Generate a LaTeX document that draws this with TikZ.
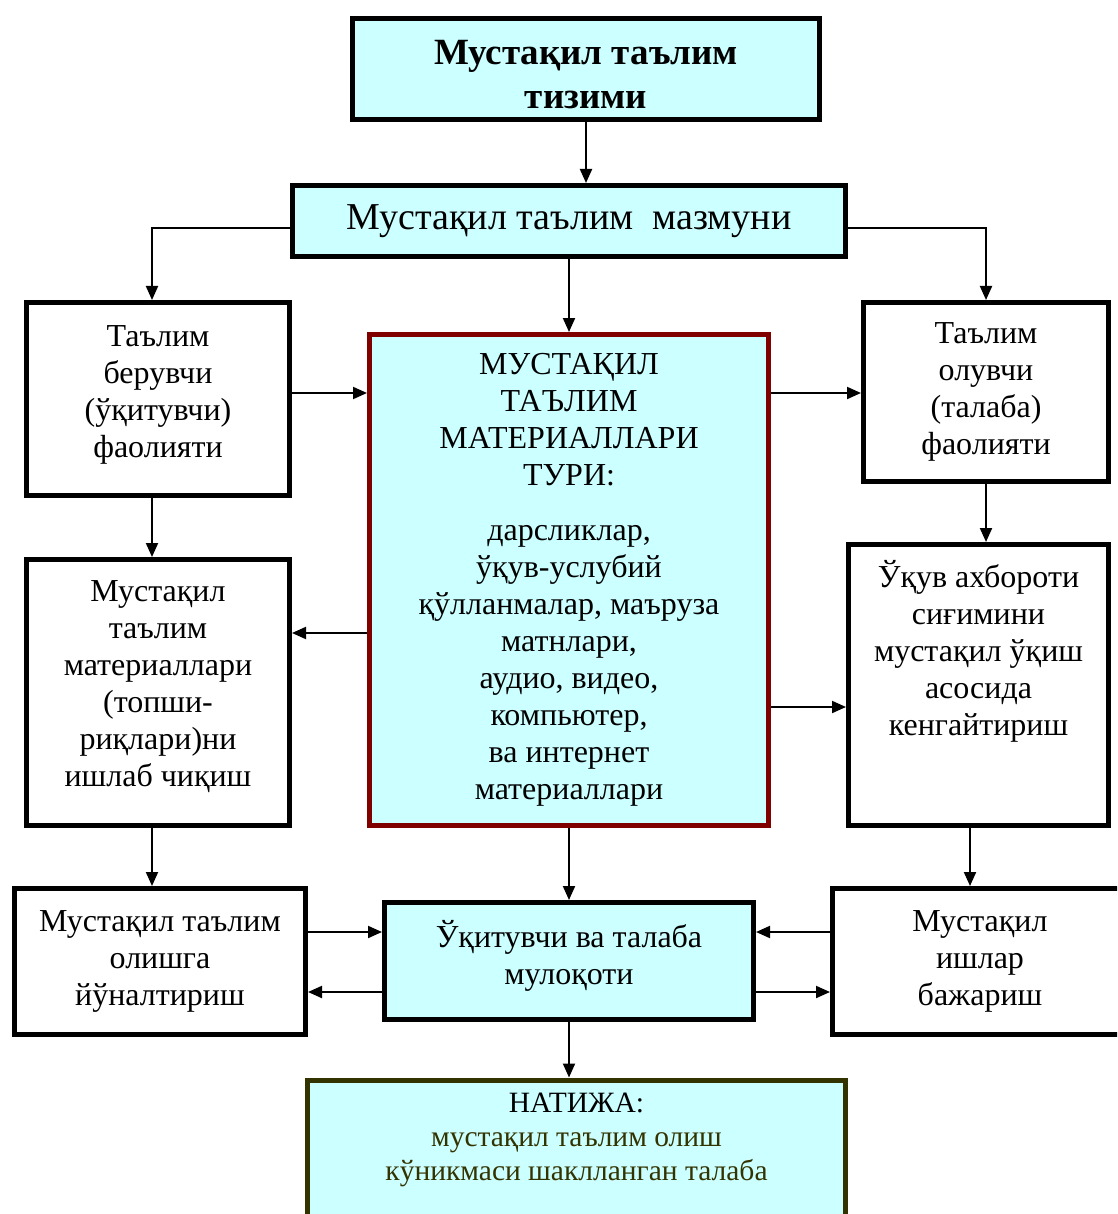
\documentclass[tikz,border=0pt]{standalone}
\usepackage{fontspec}
\setmainfont{Liberation Serif}
\usetikzlibrary{arrows.meta}
\definecolor{boxcyan}{HTML}{CCFFFF}
\definecolor{framered}{HTML}{800000}
\definecolor{frameolive}{HTML}{333300}
\begin{document}
\begin{tikzpicture}[x=1pt,y=-1pt,
  box/.style={draw=black,line width=5pt,fill=white,inner sep=0pt,align=center,
    font=\fontsize{32}{37}\selectfont},
  cyanbox/.style={box,fill=boxcyan},
  link/.style={line width=2pt,-{Triangle[length=14pt,width=12pt]}}]
\clip (0,0) rectangle (1117,1214);
\fill[white] (0,0) rectangle (1117,1214);
\node[cyanbox,minimum width=467pt,minimum height=101pt,font=\fontsize{37}{44}\selectfont\bfseries] (top) at (586,69) {\mbox{}\\[-8pt]Мустақил таълим\\тизими};
\node[cyanbox,minimum width=553pt,minimum height=71pt,font=\fontsize{38}{40}\selectfont] (maz) at (569,221) {Мустақил таълим\ \ мазмуни};
\node[box,minimum width=263pt,minimum height=193pt] (teach) at (158,399) {Таълим\\берувчи\\(ўқитувчи)\\фаолияти\\[-23pt]\mbox{}};
\node[cyanbox,draw=framered,minimum width=399pt,minimum height=491pt] (types) at (569,580) {МУСТАҚИЛ\\ТАЪЛИМ\\МАТЕРИАЛЛАРИ\\ТУРИ:\\[18pt]дарсликлар,\\ўқув-услубий\\қўлланмалар, маъруза\\матнлари,\\аудио, видео,\\компьютер,\\ва интернет\\материаллари};
\node[box,minimum width=245pt,minimum height=179pt] (learn) at (986,392) {Таълим\\олувчи\\(талаба)\\фаолияти};
\node[box,minimum width=263pt,minimum height=266pt] (tasks) at (158,692.5) {Мустақил\\таълим\\материаллари\\(топши-\\риқлари)ни\\ишлаб чиқиш\\[-20pt]\mbox{}};
\node[box,minimum width=260pt,minimum height=281pt] (widen) at (978.5,685) {Ўқув ахбороти\\сиғимини\\мустақил ўқиш\\асосида\\кенгайтириш\\[38pt]\mbox{}};
\node[box,minimum width=291pt,minimum height=146pt] (guide) at (160,961.5) {Мустақил таълим\\олишга\\йўналтириш};
\node[cyanbox,minimum width=369pt,minimum height=117pt] (talk) at (569,961) {Ўқитувчи ва талаба\\мулоқоти\\[-19pt]\mbox{}};
\node[box,minimum width=295pt,minimum height=146pt] (work) at (980,961.5) {Мустақил\\ишлар\\бажариш};
\node[cyanbox,draw=frameolive,minimum width=538pt,minimum height=148pt,font=\fontsize{29.5}{34}\selectfont] (result) at (576.5,1154) {НАТИЖА:\\\textcolor{frameolive}{мустақил таълим олиш}\\\textcolor{frameolive}{кўникмаси шаклланган талаба}\\\mbox{}};
% connectors
\draw[link] (top.south) -- (top.south |- maz.north);
\draw[link] (maz.west |- 0,228) -| (152,0 |- teach.north);
\draw[link] (maz.east |- 0,228) -| (learn.north);
\draw[link] (maz.south) -- (types.north);
\draw[link] (teach.east |- 0,393) -- (types.west |- 0,393);
\draw[link] (types.east |- 0,393) -- (learn.west |- 0,393);
\draw[link] (152,0 |- teach.south) -- (152,0 |- tasks.north);
\draw[link] (learn.south) -- (learn.south |- widen.north);
\draw[link] (types.west |- 0,633) -- (tasks.east |- 0,633);
\draw[link] (types.east |- 0,707) -- (widen.west |- 0,707);
\draw[link] (152,0 |- tasks.south) -- (152,0 |- guide.north);
\draw[link] (types.south) -- (talk.north);
\draw[link] (970,0 |- widen.south) -- (970,0 |- work.north);
\draw[link] (guide.east |- 0,932) -- (talk.west |- 0,932);
\draw[link] (talk.west |- 0,992) -- (guide.east |- 0,992);
\draw[link] (work.west |- 0,932) -- (talk.east |- 0,932);
\draw[link] (talk.east |- 0,992) -- (work.west |- 0,992);
\draw[link] (talk.south) -- (talk.south |- result.north);
\end{tikzpicture}
\end{document}
